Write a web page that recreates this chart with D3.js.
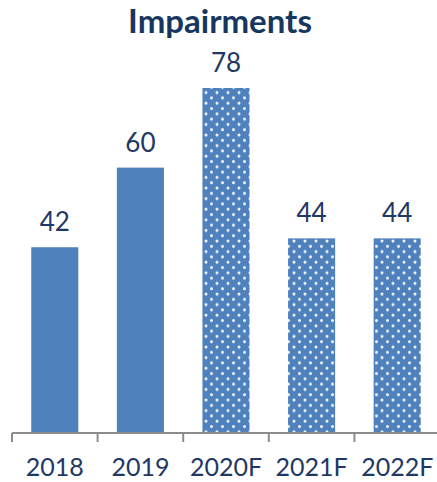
<!DOCTYPE html>
<html lang="en">
<head>
<meta charset="utf-8">
<script src="https://d3js.org/d3.v7.min.js"></script>
<style>
  body { margin: 0; background: #fff; }
  text { font-family: "Lato", "Open Sans", sans-serif; }
</style>
</head>
<body>
<script>
// chart data
var years = ["2018", "2019", "2020F", "2021F", "2022F"];
var values = [42, 60, 78, 44, 44];
var forecast = [false, false, true, true, true];

var width = 437, height = 482;
var baseY = 433;

var svg = d3.select("body").append("svg")
  .attr("width", width)
  .attr("height", height);

// dotted fill for the forecast bars
var defs = svg.append("defs");
var blur = defs.append("filter").attr("id", "soft");
blur.append("feGaussianBlur").attr("stdDeviation", 0.5);
var pat = defs.append("pattern")
  .attr("id", "dots")
  .attr("patternUnits", "userSpaceOnUse")
  .attr("width", 11)
  .attr("height", 10.6);
pat.append("rect").attr("width", 11).attr("height", 10.6).attr("fill", "#4f81bd");
pat.append("circle").attr("cx", 2.5).attr("cy", 2.5).attr("r", 1.5).attr("fill", "#f2f6fb").attr("filter", "url(#soft)");
pat.append("circle").attr("cx", 8).attr("cy", 7.8).attr("r", 1.5).attr("fill", "#f2f6fb").attr("filter", "url(#soft)");

var x = d3.scaleBand()
  .domain(years)
  .range([12, 440])
  .paddingInner(0.45)
  .paddingOuter(0.225);

var y = d3.scaleLinear()
  .domain([0, 78])
  .range([baseY, 88]);

svg.selectAll("rect.bar")
  .data(years)
  .enter().append("rect")
  .attr("class", "bar")
  .attr("x", function(d) { return x(d); })
  .attr("width", x.bandwidth())
  .attr("y", function(d, i) { return y(values[i]); })
  .attr("height", function(d, i) { return baseY - y(values[i]); })
  .attr("fill", function(d, i) { return forecast[i] ? "url(#dots)" : "#4f81bd"; });

// value labels
svg.selectAll("text.val")
  .data(years)
  .enter().append("text")
  .attr("class", "val")
  .attr("x", function(d) { return x(d) + x.bandwidth() / 2; })
  .attr("y", function(d, i) { return y(values[i]) - 16; })
  .attr("text-anchor", "middle")
  .attr("font-size", "26px")
  .attr("fill", "#1f3864")
  .text(function(d, i) { return values[i]; });

// x axis
var axis = svg.append("g").attr("transform", "translate(0," + baseY + ")");
axis.append("line")
  .attr("x1", 12).attr("x2", width)
  .attr("stroke", "#8c8c8c").attr("stroke-width", 2);
var step = x.step();
d3.range(years.length + 1).forEach(function(i) {
  var tx = 12 + i * step;
  axis.append("line")
    .attr("x1", tx).attr("x2", tx)
    .attr("y1", 0).attr("y2", 9)
    .attr("stroke", "#8c8c8c").attr("stroke-width", 2);
});
axis.selectAll("text.tick")
  .data(years)
  .enter().append("text")
  .attr("x", function(d) { return x(d) + x.bandwidth() / 2; })
  .attr("y", 43)
  .attr("text-anchor", "middle")
  .attr("font-size", "25px")
  .attr("fill", "#1f3864")
  .text(function(d) { return d; });

// title
svg.append("text")
  .attr("x", 220)
  .attr("y", 33)
  .attr("text-anchor", "middle")
  .attr("font-size", "33px")
  .attr("font-weight", "bold")
  .attr("fill", "#17375e")
  .text("Impairments");
</script>
</body>
</html>
